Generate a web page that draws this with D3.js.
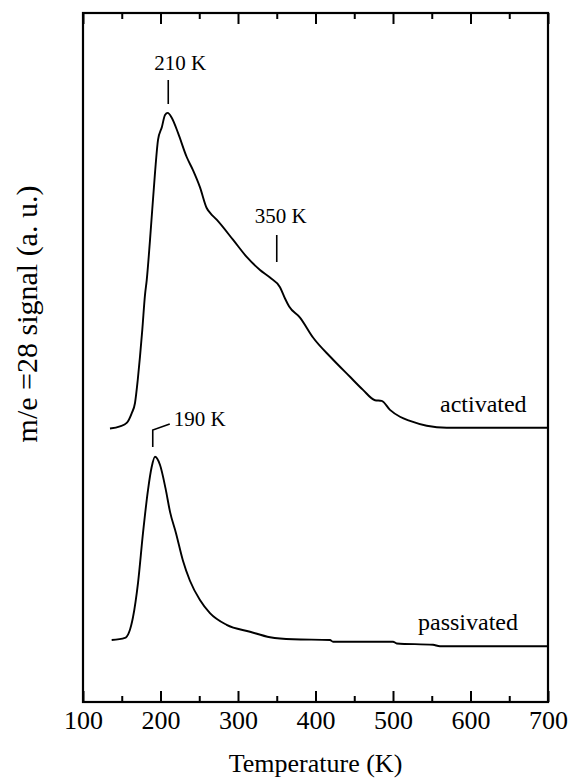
<!DOCTYPE html>
<html>
<head>
<meta charset="utf-8">
<script src="https://cdn.jsdelivr.net/npm/d3@7"></script>
<style>
  html, body { margin: 0; padding: 0; background: #fff; }
  svg { display: block; }
  text { font-family: "Liberation Serif", "Times New Roman", serif; fill: #000; }
</style>
</head>
<body>
<svg id="chart" width="569" height="784"></svg>
<script>
// Temperature-programmed desorption, m/e = 28 (arbitrary units, offset traces)
const activatedT = [134.8, 147.7, 156.4, 162.8, 167.1, 170.6, 173.5, 176.5, 180.0, 182.2,
  186.5, 192.9, 196.8, 201.9, 205.8, 209.3, 214.5, 222.6, 233.8, 241.9, 251.0, 259.6,
  264.0, 272.5, 293.5, 311.2, 328.4, 341.3, 354.2, 360.5, 366.0, 380.0, 396.8, 420.0, 444.5,
  461.3, 476.8, 485.4, 496.1, 509.0, 521.9, 543.5, 569.3, 700.0];
const activatedSignal = [3.97, 4.00, 4.05, 4.19, 4.34, 4.67, 5.01, 5.40, 5.91, 6.12,
  6.71, 7.68, 8.16, 8.35, 8.52, 8.55, 8.48, 8.26, 7.91, 7.72, 7.47, 7.17,
  7.10, 7.00, 6.71, 6.46, 6.27, 6.16, 6.02, 5.86, 5.74, 5.58, 5.29, 5.00, 4.72,
  4.53, 4.38, 4.37, 4.24, 4.14, 4.08, 4.01, 3.98, 3.98];

const passivatedT = [137.0, 154.2, 164.5, 171.0, 177.4, 183.9, 188.6, 192.9, 199.4, 206.5,
  212.3, 220.0, 229.0, 238.0, 250.9, 263.8, 285.3, 315.5, 341.3, 371.0, 418.7, 422.6,
  500.0, 504.8, 551.6, 560.6, 700.0];
const passivatedSignal = [0.90, 0.93, 1.23, 1.73, 2.45, 3.08, 3.41, 3.56, 3.44, 3.10,
  2.76, 2.45, 2.05, 1.76, 1.48, 1.29, 1.12, 1.02, 0.94, 0.91, 0.90, 0.875,
  0.875, 0.85, 0.83, 0.81, 0.81];

const majorTicks = [100, 200, 300, 400, 500, 600, 700];
const minorTicks = [150, 250, 350, 450, 550, 650];

// Peak annotations
const peakLabels = ["210 K", "350 K", "190 K"];
const peakTemps = [210, 350, 190];

const svg = d3.select("#chart");
const plotLeft = 83, plotRight = 548, plotTop = 13, plotBottom = 702;

const x = d3.scaleLinear().domain([100, 700]).range([plotLeft, plotRight]);
const y = d3.scaleLinear().domain([0, 10]).range([plotBottom, plotTop]);

// Inward ticks on the bottom and top edges
const bottomMajor = svg.append("g").attr("transform", `translate(0,${plotBottom})`)
  .call(d3.axisBottom(x).tickValues(majorTicks).tickSizeInner(-11).tickSizeOuter(0).tickFormat(d3.format("d")));
const bottomMinor = svg.append("g").attr("transform", `translate(0,${plotBottom})`)
  .call(d3.axisBottom(x).tickValues(minorTicks).tickSizeInner(-6).tickSizeOuter(0).tickFormat(""));
const topMajor = svg.append("g").attr("transform", `translate(0,${plotTop})`)
  .call(d3.axisTop(x).tickValues(majorTicks).tickSizeInner(-11).tickSizeOuter(0).tickFormat(""));
const topMinor = svg.append("g").attr("transform", `translate(0,${plotTop})`)
  .call(d3.axisTop(x).tickValues(minorTicks).tickSizeInner(-6).tickSizeOuter(0).tickFormat(""));

[bottomMajor, bottomMinor, topMajor, topMinor].forEach(g => {
  g.select(".domain").remove();
  g.selectAll(".tick line").attr("stroke", "#000").attr("stroke-width", 2);
});
bottomMajor.selectAll(".tick text")
  .attr("y", 27).attr("dy", 0)
  .style("font-family", '"Liberation Serif", "Times New Roman", serif')
  .style("font-size", "26px").attr("fill", "#000");

// Frame
svg.append("rect")
  .attr("x", plotLeft).attr("y", plotTop)
  .attr("width", plotRight - plotLeft).attr("height", plotBottom - plotTop)
  .attr("fill", "none").attr("stroke", "#000").attr("stroke-width", 2.2);

// Traces
const line = d3.line().x(d => x(d[0])).y(d => y(d[1])).curve(d3.curveMonotoneX);
const activated = d3.zip(activatedT, activatedSignal);
const passivated = d3.zip(passivatedT, passivatedSignal);

svg.append("path").datum(activated)
  .attr("d", line).attr("fill", "none").attr("stroke", "#000").attr("stroke-width", 1.9)
  .attr("stroke-linejoin", "round");
svg.append("path").datum(passivated)
  .attr("d", line).attr("fill", "none").attr("stroke", "#000").attr("stroke-width", 1.9)
  .attr("stroke-linejoin", "round");

// Trace labels
svg.append("text").attr("x", 440).attr("y", 412).style("font-size", "24px").text("activated");
svg.append("text").attr("x", 418).attr("y", 630).style("font-size", "24px").text("passivated");

// Peak markers
const mark = svg.append("g").attr("stroke", "#000").attr("stroke-width", 1.6).attr("fill", "none");
mark.append("line").attr("x1", x(peakTemps[0])).attr("x2", x(peakTemps[0])).attr("y1", 80).attr("y2", 104);
svg.append("text").attr("x", x(peakTemps[0]) - 14).attr("y", 70).style("font-size", "21px").text(peakLabels[0]);

mark.append("line").attr("x1", x(peakTemps[1])).attr("x2", x(peakTemps[1])).attr("y1", 235).attr("y2", 262);
svg.append("text").attr("x", x(peakTemps[1]) - 22).attr("y", 223).style("font-size", "21px").text(peakLabels[1]);

mark.append("path").attr("d", `M${x(peakTemps[2])},447 V430 L${x(peakTemps[2]) + 17},424`);
svg.append("text").attr("x", x(peakTemps[2]) + 21).attr("y", 426).style("font-size", "21px").text(peakLabels[2]);

// Axis titles
svg.append("text").attr("x", (plotLeft + plotRight) / 2).attr("y", 772)
  .attr("text-anchor", "middle").style("font-size", "26px").text("Temperature (K)");
svg.append("text")
  .attr("transform", "translate(37,314) rotate(-90)")
  .attr("text-anchor", "middle").style("font-size", "30px").text("m/e =28 signal (a. u.)");
</script>
</body>
</html>
